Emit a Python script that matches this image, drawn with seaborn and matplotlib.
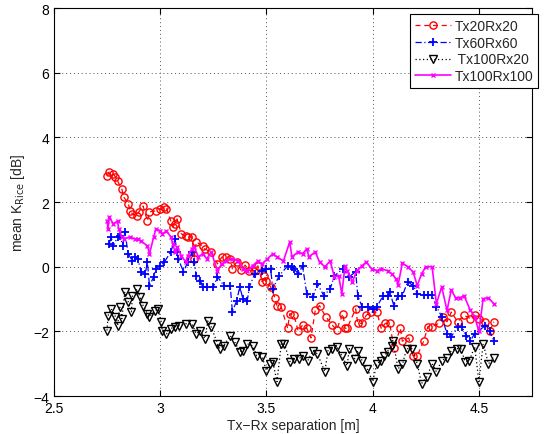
"""Mean Rice K-factor versus Tx-Rx separation, four antenna height pairs."""
import matplotlib
matplotlib.use('Agg')
import matplotlib.pyplot as plt
import pandas as pd
import seaborn as sns

# Tx20Rx20
x_20_20 = [2.75, 2.76, 2.78, 2.79, 2.80, 2.82, 2.83, 2.85, 2.86, 2.87, 2.89, 2.90,
           2.92, 2.94, 2.95, 2.98, 3.00, 3.02, 3.03, 3.05, 3.06, 3.07, 3.08, 3.10,
           3.12, 3.13, 3.15, 3.16, 3.17, 3.20, 3.21, 3.24, 3.27, 3.29, 3.31, 3.33,
           3.34, 3.36, 3.38, 3.40, 3.42, 3.44, 3.46, 3.48, 3.49, 3.50, 3.52, 3.54,
           3.55, 3.57, 3.60, 3.61, 3.63, 3.65, 3.67, 3.69, 3.71, 3.73, 3.75, 3.78,
           3.81, 3.83, 3.86, 3.87, 3.88, 3.92, 3.93, 3.95, 3.97, 3.99, 4.02, 4.04,
           4.06, 4.08, 4.10, 4.13, 4.14, 4.17, 4.19, 4.21, 4.24, 4.26, 4.28, 4.31,
           4.33, 4.35, 4.37, 4.40, 4.43, 4.46, 4.48, 4.50, 4.53, 4.55, 4.57]
k_20_20 = [2.80, 2.93, 2.87, 2.78, 2.65, 2.40, 2.15, 1.95, 1.73, 1.63, 1.57, 1.70,
           1.88, 1.42, 1.70, 1.73, 1.80, 1.85, 1.80, 1.42, 1.23, 1.33, 1.48, 1.02,
           0.95, 0.92, 0.92, 0.25, 0.77, 0.65, 0.55, 0.46, 0.09, 0.30, 0.30, 0.25,
           -0.06, 0.15, -0.10, 0.05, -0.12, -0.12, 0.03, -0.46, -0.28, -0.43, -0.62, -0.95,
           -1.20, -1.25, -1.90, -1.45, -1.50, -2.00, -1.80, -1.90, -2.20, -1.35, -1.20, -1.55,
           -1.80, -1.95, -1.45, -1.90, -1.90, -1.30, -1.75, -1.75, -1.50, -1.40, -1.40, -1.90,
           -1.75, -1.75, -2.50, -1.90, -2.30, -2.20, -2.75, -2.75, -2.30, -1.85, -1.85, -1.75,
           -1.55, -1.70, -1.40, -1.70, -1.50, -1.60, -1.50, -1.60, -1.70, -2.00, -1.70]

# Tx60Rx60
x_60_60 = [2.76, 2.77, 2.78, 2.80, 2.81, 2.825, 2.834, 2.85, 2.87, 2.88, 2.895, 2.91,
           2.93, 2.94, 2.95, 2.97, 2.98, 3.00, 3.02, 3.05, 3.07, 3.08, 3.085, 3.11,
           3.13, 3.15, 3.16, 3.17, 3.19, 3.20, 3.22, 3.25, 3.27, 3.30, 3.33, 3.34,
           3.36, 3.375, 3.39, 3.41, 3.42, 3.445, 3.48, 3.50, 3.52, 3.53, 3.56, 3.60,
           3.62, 3.63, 3.65, 3.67, 3.69, 3.72, 3.74, 3.77, 3.80, 3.82, 3.86, 3.89,
           3.92, 3.93, 3.95, 3.98, 4.00, 4.02, 4.05, 4.07, 4.08, 4.10, 4.12, 4.14,
           4.165, 4.19, 4.21, 4.24, 4.26, 4.28, 4.30, 4.325, 4.35, 4.37, 4.40, 4.42,
           4.44, 4.46, 4.48, 4.53, 4.55, 4.57]
k_60_60 = [0.71, 0.92, 0.65, 0.92, 0.96, 0.65, 1.08, 0.40, 0.18, 0.30, 0.25, -0.15,
           -0.22, 0.15, -0.58, -0.31, -0.06, 0.03, 0.15, 0.46, 0.86, 0.46, 0.25, -0.15,
           0.15, 0.46, 0.15, -0.28, -0.43, -0.62, -0.62, -0.62, -0.31, -0.58, -0.58, -1.39,
           -1.05, -0.62, -1.00, -1.05, -0.62, -0.22, -0.12, -0.06, -0.06, -0.68, -0.28, 0.03,
           0.00, -0.06, -0.22, 0.03, -0.83, -0.93, -0.52, -0.89, -0.68, -0.28, -0.06, -0.31,
           -0.15, -0.89, -1.23, -1.23, -1.30, -1.23, -0.89, -0.89, -0.77, -1.20, -0.89, -0.89,
           -0.46, -0.58, -0.83, -0.86, -0.86, -0.86, -1.23, -1.54, -2.07, -2.16, -1.85, -1.85,
           -2.13, -2.28, -2.07, -1.82, -1.97, -2.28]

# Tx100Rx20
x_100_20 = [2.75, 2.755, 2.77, 2.79, 2.80, 2.81, 2.82, 2.834, 2.85, 2.865, 2.87, 2.89,
            2.905, 2.92, 2.94, 2.95, 2.975, 2.99, 3.005, 3.01, 3.03, 3.05, 3.07, 3.09,
            3.12, 3.15, 3.17, 3.19, 3.21, 3.225, 3.24, 3.27, 3.28, 3.30, 3.33, 3.35,
            3.375, 3.39, 3.41, 3.435, 3.455, 3.48, 3.50, 3.515, 3.53, 3.55, 3.57, 3.585,
            3.61, 3.63, 3.655, 3.67, 3.695, 3.72, 3.74, 3.775, 3.79, 3.81, 3.83, 3.855,
            3.88, 3.89, 3.915, 3.93, 3.95, 3.975, 4.00, 4.02, 4.04, 4.055, 4.07, 4.09,
            4.095, 4.12, 4.14, 4.16, 4.185, 4.21, 4.23, 4.255, 4.28, 4.30, 4.325, 4.35,
            4.37, 4.395, 4.415, 4.435, 4.455, 4.48, 4.50, 4.52, 4.545, 4.57]
k_100_20 = [-1.97, -1.51, -1.30, -1.54, -1.82, -1.23, -1.60, -0.77, -1.08, -1.39, -0.89, -0.68,
            -0.93, -1.20, -1.45, -1.54, -1.36, -1.30, -1.70, -1.97, -2.07, -1.91, -1.85, -1.82,
            -1.76, -1.76, -2.07, -1.97, -2.22, -1.67, -1.85, -2.38, -2.53, -2.44, -2.13, -2.31,
            -2.62, -2.59, -2.38, -2.44, -2.75, -2.78, -3.21, -3.00, -2.93, -3.55, -2.38, -2.38,
            -2.93, -2.84, -2.84, -2.75, -2.90, -2.59, -2.69, -3.24, -2.59, -2.53, -2.47, -2.75,
            -3.06, -2.53, -2.84, -2.59, -2.90, -3.15, -3.55, -3.00, -2.90, -2.75, -2.62, -2.44,
            -2.28, -3.15, -3.02, -2.53, -2.53, -3.00, -3.61, -3.40, -3.00, -3.24, -2.90, -2.81,
            -2.59, -2.53, -2.53, -2.93, -2.90, -2.47, -3.55, -2.38, -3.00, -2.81]

# Tx100Rx100
x_100_100 = [2.75, 2.755, 2.76, 2.78, 2.80, 2.805, 2.82, 2.83, 2.86, 2.88, 2.895, 2.91,
             2.94, 2.95, 2.97, 2.98, 3.00, 3.01, 3.03, 3.05, 3.06, 3.07, 3.08, 3.10,
             3.12, 3.13, 3.15, 3.16, 3.18, 3.20, 3.22, 3.24, 3.27, 3.29, 3.31, 3.34,
             3.365, 3.39, 3.41, 3.435, 3.46, 3.48, 3.505, 3.53, 3.55, 3.58, 3.61, 3.62,
             3.65, 3.67, 3.69, 3.70, 3.73, 3.75, 3.775, 3.80, 3.82, 3.84, 3.855, 3.87,
             3.88, 3.905, 3.925, 3.95, 3.97, 3.995, 4.02, 4.04, 4.07, 4.09, 4.11, 4.12,
             4.14, 4.165, 4.19, 4.21, 4.23, 4.25, 4.28, 4.30, 4.325, 4.35, 4.37, 4.39,
             4.41, 4.43, 4.46, 4.48, 4.50, 4.52, 4.545, 4.57]
k_100_100 = [1.42, 1.17, 1.54, 1.33, 1.42, 1.17, 0.93, 0.86, 0.93, 0.86, 0.86, 0.80,
             0.65, 0.40, 0.93, 1.17, 1.11, 1.02, 1.11, 0.93, 0.71, 0.46, 0.62, 0.34,
             0.15, 0.34, 0.56, 0.62, 0.31, 0.40, 0.25, 0.46, -0.12, 0.09, 0.18, 0.25,
             0.18, -0.06, -0.12, 0.03, 0.18, 0.09, 0.25, 0.40, 0.31, 0.18, 0.77, 0.31,
             0.46, 0.40, 0.56, 0.31, 0.46, 0.15, 0.00, 0.18, -0.31, -0.28, -0.83, 0.03,
             -0.12, -0.46, -0.12, 0.03, 0.15, -0.06, -0.12, -0.06, -0.12, -0.22, -0.37, -0.55,
             0.12, 0.00, -0.15, -0.58, -0.22, 0.00, 0.00, -1.14, -0.62, -1.35, -0.71, -0.96,
             -0.96, -0.89, -1.35, -1.54, -2.00, -0.99, -0.96, -1.14]

# name, x, y, colour, line style, line width, marker, marker size, hollow marker
series = [
    ('Tx20Rx20', x_20_20, k_20_20, 'red', (0, (4, 3)), 0.9, 'o', 5.2, True),
    ('Tx60Rx60', x_60_60, k_60_60, 'blue', (0, (5, 2, 1, 2)), 0.9, '+', 5.5, False),
    (' Tx100Rx20', x_100_20, k_100_20, 'black', (0, (1, 2)), 0.9, 'v', 5.5, True),
    ('Tx100Rx100', x_100_100, k_100_100, 'magenta', '-', 1.2, 'x', 3.2, False),
]

sns.set_style('ticks')
plt.rcParams['font.family'] = ['Liberation Sans', 'DejaVu Sans']

fig, ax = plt.subplots(figsize=(5.44, 4.35), dpi=100)
fig.subplots_adjust(left=0.099, right=0.978, top=0.979, bottom=0.087)

handles = []
for name, xs, ks, col, ls, lw, mk, ms, hollow in series:
    df = pd.DataFrame({'sep': xs, 'k': ks})
    sns.lineplot(data=df, x='sep', y='k', ax=ax, sort=False, estimator=None,
                 color=col, linewidth=lw)
    line = ax.lines[-1]
    # seaborn drops the marker settings here, so set them on the line itself
    line.set_linestyle(ls)
    line.set_marker(mk)
    line.set_markersize(ms)
    line.set_markeredgecolor(col)
    line.set_markerfacecolor('none' if hollow else col)
    line.set_markeredgewidth(1.0 if mk != '+' else 1.3)
    line.set_label(name)
    handles.append(line)

ax.set_xlim(2.5, 4.75)
ax.set_ylim(-4, 8)
ax.set_xticks([2.5, 3, 3.5, 4, 4.5])
ax.set_xticklabels(['2.5', '3', '3.5', '4', '4.5'])
ax.set_yticks([-4, -2, 0, 2, 4, 6, 8])
ax.grid(True, linestyle=(0, (1, 3)), color='#555555', linewidth=0.7)
ax.tick_params(direction='in', length=4, labelsize=10, top=True, right=True,
               colors='black')
for sp in ax.spines.values():
    sp.set_visible(True)
    sp.set_color('black')
    sp.set_linewidth(0.8)

ax.set_xlabel('Tx\u2212Rx separation [m]', fontsize=10, labelpad=2)
ax.set_ylabel('mean K$_{\\mathrm{Rice}}$ [dB]', fontsize=10, labelpad=4)

leg = ax.legend(handles=handles, loc='upper right', bbox_to_anchor=(1.0126, 0.985),
                fontsize=10, frameon=True, fancybox=False, edgecolor='black',
                framealpha=1, borderpad=0.35, labelspacing=0.2, handlelength=2.6,
                handletextpad=0.25, borderaxespad=0.0)
leg.get_frame().set_linewidth(0.8)

fig.savefig('out.png', dpi=100)
